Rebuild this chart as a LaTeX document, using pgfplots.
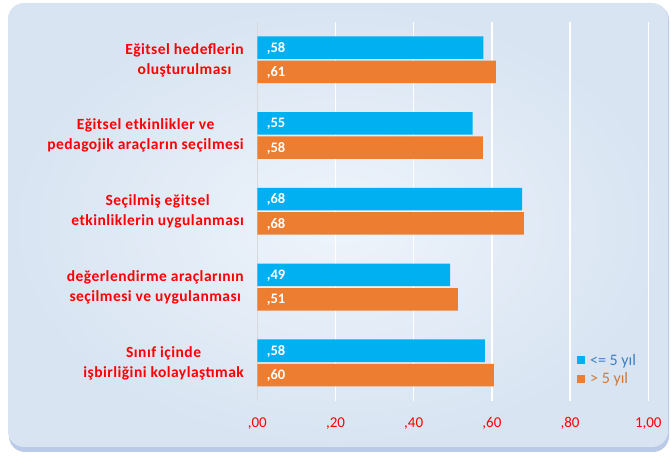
\documentclass[border=0pt]{standalone}
\usepackage{pgfplots}
\pgfplotsset{compat=1.18}
\usepackage{fontspec}
\setmainfont{Carlito}
\newfontfamily\catfont[LetterSpace=3]{Carlito}
\definecolor{cblue}{HTML}{00B0F0}
\definecolor{corange}{HTML}{ED7D31}
\definecolor{cred}{HTML}{FF0000}
\definecolor{bgin}{HTML}{EEF4FB}
\definecolor{bgout}{HTML}{D8E4F2}
\definecolor{shadow}{HTML}{9DB4DC}
\definecolor{legblue}{HTML}{3F7FC0}
\definecolor{legorange}{HTML}{CC7A3C}
\begin{document}
\begin{tikzpicture}
\useasboundingbox (0,0) rectangle (671bp,456bp);
\fill[shadow!70, rounded corners=16bp] (9bp,4bp) rectangle (669bp,452bp);
\shade[inner color=bgin, outer color=bgout, rounded corners=16bp] (8bp,9bp) rectangle (668bp,453bp);
\begin{axis}[
  at={(257.3bp,55bp)}, anchor=south west,
  scale only axis, width=391bp, height=379bp,
  xmin=0, xmax=1, ymin=-0.5, ymax=4.5, y dir=reverse,
  axis line style={draw=none},
  major tick length=0pt,
  xtick={0.2,0.4,0.6,0.8,1.0},
  xticklabels={{,20},{,40},{,60},{,80},{1,00}},
  extra x ticks={0},
  extra x tick labels={\hbox{,00}},
  extra x tick style={major grid style={draw=black!15, line width=1.6bp}},
  xmajorgrids, major grid style={draw=white, line width=1.4bp},
  xticklabel style={text=cred, font=\fontsize{15bp}{18bp}\selectfont, yshift=-13bp},
  ytick={0,1,2,3,4},
  yticklabels={{Eğitsel hedeflerin\\oluşturulması},{Eğitsel etkinlikler ve\\pedagojik araçların seçilmesi},{Seçilmiş eğitsel\\etkinliklerin uygulanması},{değerlendirme araçlarının\\seçilmesi ve uygulanması},{Sınıf içinde\\işbirliğini kolaylaştımak}},
  yticklabel style={text=cred, align=center, font=\catfont\fontsize{15.5bp}{20bp}\selectfont\bfseries, xshift=-10bp},
  legend style={draw=none, fill=none, at={(rel axis cs:0.81,0.135)}, anchor=north west,
    font=\fontsize{16bp}{19bp}\selectfont, row sep=2bp,
    /tikz/every even column/.style={column sep=3bp}},
  legend cell align=left,
  legend image code/.code={\fill[#1] (0bp,-4bp) rectangle (8bp,4bp);},
  clip=false,
]
\addplot[xbar, fill=cblue, draw=none, bar width=22.5bp, bar shift=0pt]
  coordinates {(0.578,-0.163) (0.551,0.837) (0.677,1.837) (0.493,2.837) (0.582,3.837)};
\addlegendentry{\hspace{3bp}\textcolor{legblue}{<= 5 yıl}}
\addplot[xbar, fill=corange, draw=none, bar width=22.5bp, bar shift=0pt]
  coordinates {(0.610,0.158) (0.577,1.158) (0.682,2.158) (0.513,3.158) (0.605,4.158)};
\addlegendentry{\hspace{3bp}\textcolor{legorange}{> 5 yıl}}
\addplot[draw=none, mark=none, forget plot, nodes near coords, point meta=explicit symbolic,
  every node near coord/.style={anchor=base west, text=white, font=\fontsize{14.5bp}{16bp}\selectfont\bfseries, xshift=6bp, yshift=-4.6bp}]
  coordinates {(0,-0.163) [,58] (0,0.837) [,55] (0,1.837) [,68] (0,2.837) [,49] (0,3.837) [,58]
               (0,0.158) [,61] (0,1.158) [,58] (0,2.158) [,68] (0,3.158) [,51] (0,4.158) [,60]};
\end{axis}
\end{tikzpicture}
\end{document}
